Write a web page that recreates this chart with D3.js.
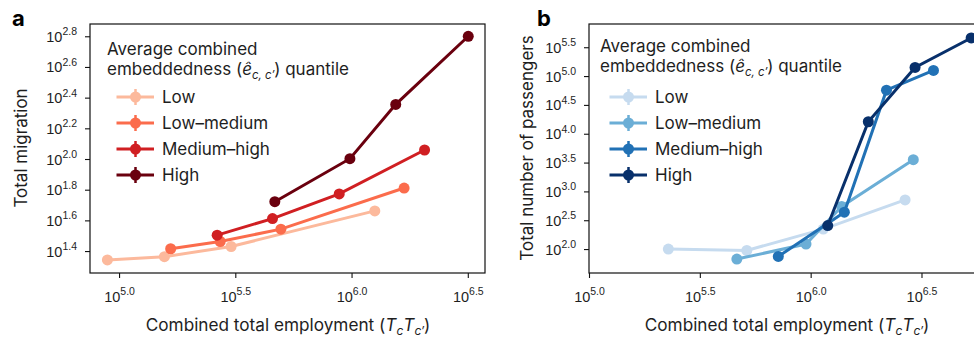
<!DOCTYPE html>
<html>
<head>
<meta charset="utf-8">
<script src="https://cdn.jsdelivr.net/npm/d3@7"></script>
<style>
  body { margin: 0; background: #fff; }
  svg { display: block; font-family: Inter, 'Liberation Sans', sans-serif; }
</style>
</head>
<body>
<svg id="chart" width="974" height="338"></svg>
<script>
const quantiles = ['Low', 'Low\u2013medium', 'Medium\u2013high', 'High']
const redColors = ['#fcb99c', '#fb6c4c', '#d01f22', '#6a000e']
const blueColors = ['#c6dbef', '#6baed6', '#2171b5', '#08306b']

// panel a: combined employment vs total migration, one row per quantile
const migEmployment = [
  [89100, 156700, 303400, 1259000],
  [166700, 272300, 496600, 1683000],
  [264200, 457100, 885100, 2061000],
  [467700, 984000, 1549000, 3177000]
]
const migTotals = [
  [22.0, 23.1, 26.9, 45.9],
  [26.0, 29.0, 34.9, 64.7],
  [31.9, 40.9, 59.2, 114.5],
  [52.7, 100.5, 227.0, 631.0]
]

// panel b: combined employment vs total passengers
const paxEmployment = [
  [228000, 515200, 1140000, 2667000],
  [464500, 952800, 1380000, 2904000],
  [714500, 1419000, 2198000, 3581000],
  [1194000, 1820000, 2958000, 5297000]
]
const paxTotals = [
  [100, 94.6, 221.8, 712.9],
  [67.1, 122.2, 549.5, 3548],
  [74.5, 436.5, 57020, 125000],
  [255.9, 16140, 140900, 458100]
]

const xTickExps = ['5.0', '5.5', '6.0', '6.5']
const migTickExps = ['1.4', '1.6', '1.8', '2.0', '2.2', '2.4', '2.6', '2.8']
const paxTickExps = ['2.0', '2.5', '3.0', '3.5', '4.0', '4.5', '5.0', '5.5']

const svg = d3.select('#chart')
const textColor = '#1e1e1e'

function powLabel(sel, exp) {
  sel.append('tspan').text('10')
  sel.append('tspan').attr('dy', -6.5).attr('font-size', 10.5).text(exp)
}

function drawPanel(p) {
  const g = svg.append('g')

  const x = d3.scaleLog().domain(p.xDomain).range([p.left, p.right])
  const y = d3.scaleLog().domain(p.yDomain).range([p.bottom, p.top])

  // bottom axis
  const xAxis = g.append('g')
    .attr('transform', 'translate(0,' + p.bottom + ')')
    .call(d3.axisBottom(x)
      .tickValues(xTickExps.map(e => Math.pow(10, +e)))
      .tickSize(5)
      .tickFormat(() => ''))
  xAxis.select('.domain').remove()
  xAxis.selectAll('.tick line').attr('stroke', '#111').attr('stroke-width', 1.1)
  xAxis.selectAll('.tick').each(function(d, i) {
    d3.select(this).append('text')
      .attr('y', 28.5)
      .attr('fill', textColor)
      .attr('font-size', 14.5)
      .style('text-anchor', 'middle')
      .call(powLabel, xTickExps[i])
  })

  // left axis
  const yAxis = g.append('g')
    .attr('transform', 'translate(' + p.left + ',0)')
    .call(d3.axisLeft(y)
      .tickValues(p.yTicks.map(e => Math.pow(10, +e)))
      .tickSize(5)
      .tickFormat(() => ''))
  yAxis.select('.domain').remove()
  yAxis.selectAll('.tick line').attr('stroke', '#111').attr('stroke-width', 1.1)
  yAxis.selectAll('.tick').each(function(d, i) {
    d3.select(this).append('text')
      .attr('x', -13)
      .attr('y', 5)
      .attr('fill', textColor)
      .attr('font-size', 14.5)
      .style('text-anchor', 'end')
      .call(powLabel, p.yTicks[i])
  })

  // frame
  g.append('rect')
    .attr('x', p.left)
    .attr('y', p.top)
    .attr('width', p.right - p.left)
    .attr('height', p.bottom - p.top)
    .attr('fill', 'none')
    .attr('stroke', '#111')
    .attr('stroke-width', 1.2)

  // series
  const line = d3.line()
    .x(d => x(d[0]))
    .y(d => y(d[1]))

  quantiles.forEach((q, i) => {
    const pts = p.xs[i].map((v, j) => [v, p.ys[i][j]])
    g.append('path')
      .datum(pts)
      .attr('d', line)
      .attr('fill', 'none')
      .attr('stroke', p.colors[i])
      .attr('stroke-width', 3)
    g.selectAll('.dot' + i)
      .data(pts)
      .enter()
      .append('circle')
      .attr('class', 'dot' + i)
      .attr('cx', d => x(d[0]))
      .attr('cy', d => y(d[1]))
      .attr('r', 5.5)
      .attr('fill', p.colors[i])
  })

  // legend
  const lg = g.append('g').attr('fill', textColor).attr('font-size', 17)
  lg.append('text').attr('x', p.legX).attr('y', p.legY).text('Average combined')
  const t2 = lg.append('text').attr('x', p.legX).attr('y', p.legY + 20)
  t2.append('tspan').text('embeddedness (')
  t2.append('tspan').attr('font-style', 'italic').text('\u00ea')
  t2.append('tspan').attr('font-style', 'italic').attr('font-size', 11.5).attr('dy', 4).text('c, c\u2032')
  t2.append('tspan').attr('dy', -4).text(') quantile')

  quantiles.forEach((q, i) => {
    const cy = 97 + i * 26
    const mx = p.legX + 28.5
    lg.append('line')
      .attr('x1', mx - 19).attr('x2', mx + 18.5)
      .attr('y1', cy).attr('y2', cy)
      .attr('stroke', p.colors[i]).attr('stroke-width', 3)
    lg.append('line')
      .attr('x1', mx).attr('x2', mx)
      .attr('y1', cy - 8).attr('y2', cy + 8)
      .attr('stroke', p.colors[i]).attr('stroke-width', 2.5)
    lg.append('circle')
      .attr('cx', mx).attr('cy', cy).attr('r', 5.5)
      .attr('fill', p.colors[i])
    lg.append('text')
      .attr('x', p.legX + 55).attr('y', cy + 6)
      .text(q)
  })

  // axis titles
  g.append('text')
    .attr('transform', 'translate(' + p.yTitleX + ',' + p.yTitleY + ') rotate(-90)')
    .attr('fill', textColor)
    .attr('font-size', 17)
    .style('text-anchor', 'middle')
    .text(p.yTitle)

  const xt = g.append('text')
    .attr('x', p.xTitleX)
    .attr('y', 331)
    .attr('fill', textColor)
    .attr('font-size', 17.2)
    .style('text-anchor', 'middle')
  xt.append('tspan').text('Combined total employment (')
  xt.append('tspan').attr('font-style', 'italic').text('T')
  xt.append('tspan').attr('font-style', 'italic').attr('font-size', 12).attr('dy', 4).text('c')
  xt.append('tspan').attr('font-style', 'italic').attr('dy', -4).text('T')
  xt.append('tspan').attr('font-style', 'italic').attr('font-size', 12).attr('dy', 4).text('c\u2032')
  xt.append('tspan').attr('dy', -4).text(')')

  // panel letter
  g.append('text')
    .attr('x', p.letterX)
    .attr('y', 26)
    .attr('fill', '#000')
    .attr('font-size', 22)
    .attr('font-weight', 'bold')
    .text(p.letter)
}

drawPanel({
  letter: 'a', letterX: 12,
  left: 90, right: 485, top: 24, bottom: 273,
  xDomain: [Math.pow(10, 4.875), Math.pow(10, 6.574)],
  yDomain: [Math.pow(10, 1.257), Math.pow(10, 2.88)],
  yTicks: migTickExps,
  xs: migEmployment, ys: migTotals, colors: redColors,
  legX: 107, legY: 55,
  yTitle: 'Total migration', yTitleX: 27, yTitleY: 148,
  xTitleX: 288
})

drawPanel({
  letter: 'b', letterX: 537,
  left: 589, right: 984, top: 24, bottom: 273,
  xDomain: [Math.pow(10, 5.0), Math.pow(10, 6.782)],
  yDomain: [Math.pow(10, 1.585), Math.pow(10, 5.903)],
  yTicks: paxTickExps,
  xs: paxEmployment, ys: paxTotals, colors: blueColors,
  legX: 600, legY: 52,
  yTitle: 'Total number of passengers', yTitleX: 533, yTitleY: 148,
  xTitleX: 787
})
</script>
</body>
</html>
